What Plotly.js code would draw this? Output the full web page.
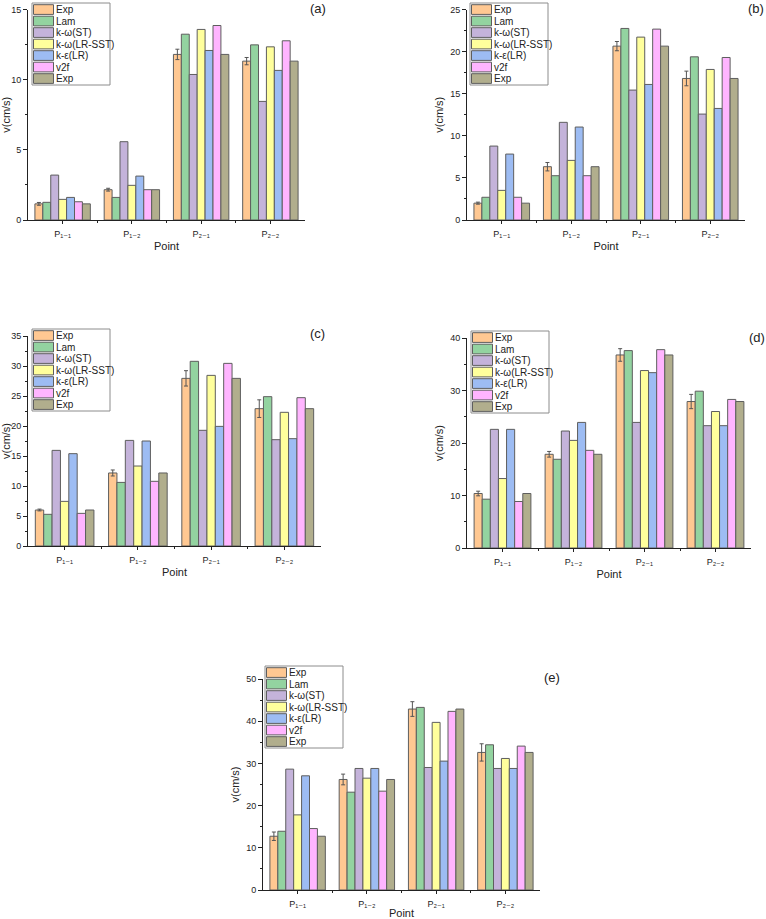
<!DOCTYPE html>
<html>
<head>
<meta charset="utf-8">
<script src="https://cdn.plot.ly/plotly-3.0.1.min.js"></script>
<style>html,body{margin:0;padding:0;background:#fff;}#chart{width:766px;height:919px;}</style>
</head>
<body>
<div id="chart"></div>
<script>
// ---------- data ----------
const categories = ['P₁₋₁', 'P₁₋₂', 'P₂₋₁', 'P₂₋₂'];
const seriesNames = ['Exp', 'Lam', 'k-ω(ST)', 'k-ω(LR-SST)', 'k-ε(LR)', 'v2f', 'Exp'];
const seriesColors = ['#FFC892', '#93D3A0', '#C4B3DA', '#FFFF9C', '#9DBCF3', '#FFB5FF', '#B1AE8D'];
const panelLabels = ['(a)', '(b)', '(c)', '(d)', '(e)'];

// values per panel: rows follow seriesNames order
const valuesA = [
  [1.15, 2.16, 11.80, 11.32],
  [1.26, 1.61, 13.24, 12.48],
  [3.20, 5.58, 10.37, 8.45],
  [1.47, 2.47, 13.58, 12.34],
  [1.61, 3.13, 12.08, 10.66],
  [1.30, 2.16, 13.86, 12.77],
  [1.15, 2.16, 11.80, 11.32]
];
const errA = [0.10, 0.10, 0.37, 0.26];

const valuesB = [
  [2.00, 6.33, 20.65, 16.81],
  [2.70, 5.26, 22.75, 19.38],
  [8.78, 11.60, 15.43, 12.58],
  [3.52, 7.08, 21.72, 17.88],
  [7.83, 11.04, 16.10, 13.25],
  [2.70, 5.26, 22.67, 19.30],
  [2.00, 6.33, 20.65, 16.81]
];
const errB = [0.12, 0.50, 0.55, 0.87];

const valuesC = [
  [6.00, 12.17, 27.94, 22.89],
  [5.28, 10.60, 30.78, 24.89],
  [15.94, 17.60, 19.28, 17.72],
  [7.44, 13.33, 28.44, 22.28],
  [15.39, 17.50, 19.94, 17.89],
  [5.44, 10.78, 30.44, 24.72],
  [6.00, 12.17, 27.94, 22.89]
];
const errC = [0.15, 0.50, 1.28, 1.47];

const valuesD = [
  [10.38, 17.85, 36.77, 27.90],
  [9.30, 16.90, 37.60, 29.87],
  [22.60, 22.28, 23.92, 23.30],
  [13.23, 20.50, 33.80, 26.00],
  [22.60, 23.92, 33.40, 23.30],
  [8.86, 18.60, 37.78, 28.30],
  [10.38, 17.85, 36.77, 27.90]
];
const errD = [0.44, 0.54, 1.20, 1.36];

const valuesE = [
  [12.74, 26.19, 42.88, 32.60],
  [13.92, 23.18, 43.27, 34.41],
  [28.64, 28.80, 29.03, 28.80],
  [17.80, 26.50, 39.72, 31.17],
  [27.06, 28.80, 30.54, 28.80],
  [14.56, 23.42, 42.33, 34.10],
  [12.74, 26.19, 42.88, 32.60]
];
const errE = [1.00, 1.27, 1.74, 2.05];

const yMax = [15, 25, 35, 40, 50];
const yDtick = [5, 5, 5, 10, 10];

// ---------- layout geometry (pixels) ----------
const W = 766, H = 919;
const boxes = [
  {x0: 28, x1: 305, y0: 9.5, y1: 220, lx: 32, ly: 3, lab: [318, 8]},
  {x0: 467, x1: 745, y0: 9.5, y1: 220, lx: 470, ly: 3, lab: [756, 8]},
  {x0: 28, x1: 321, y0: 336, y1: 546, lx: 32, ly: 329, lab: [317, 333]},
  {x0: 467, x1: 751, y0: 338, y1: 548, lx: 471, ly: 331, lab: [757, 337]},
  {x0: 263, x1: 540, y0: 679, y1: 890, lx: 265, ly: 666, lab: [552, 677]}
];
const px = v => v / W;
const py = v => 1 - v / H;

const allValues = [valuesA, valuesB, valuesC, valuesD, valuesE];
const allErr = [errA, errB, errC, errD, errE];

const FONT = 'Arial, "Liberation Sans", "DejaVu Sans", sans-serif';
const xIdx = categories.map((c, i) => i);

const traces = [];
const layout = {
  width: W, height: H,
  margin: {l: 0, r: 0, t: 0, b: 0},
  paper_bgcolor: '#fff', plot_bgcolor: 'rgba(0,0,0,0)',
  showlegend: false,
  barmode: 'group', bargap: 0.2, bargroupgap: 0,
  font: {family: FONT, color: '#222', size: 10},
  shapes: [], annotations: []
};

allValues.forEach((vals, p) => {
  const n = p === 0 ? '' : String(p + 1);
  const b = boxes[p];
  vals.forEach((row, s) => {
    const t = {
      type: 'bar', x: xIdx, y: row, name: seriesNames[s],
      xaxis: 'x' + n, yaxis: 'y' + n,
      marker: {color: seriesColors[s], line: {color: '#5e5e5e', width: 1}},
      hoverinfo: 'y'
    };
    if (s === 0) {
      t.error_y = {type: 'data', array: allErr[p], visible: true, color: '#555', thickness: 1, width: 2};
    }
    traces.push(t);
  });
  layout['xaxis' + n] = {
    domain: [px(b.x0), px(b.x1)], anchor: 'y' + n,
    range: [-0.5, 3.5], tickmode: 'array', tickvals: xIdx, ticktext: categories,
    showline: true, linecolor: '#222', linewidth: 1, zeroline: false, showgrid: false,
    ticks: 'outside', ticklen: 3, tickcolor: '#222', tickwidth: 1,
    ticklabelstandoff: 2,
    tickfont: {size: 9, color: '#222', family: FONT},
    minor: {tickmode: 'array', tickvals: [0.5, 1.5, 2.5], ticks: 'outside', ticklen: 2, tickcolor: '#222', showgrid: false},
    title: {text: 'Point', font: {size: 11, color: '#222', family: FONT}, standoff: 4},
    fixedrange: true
  };
  layout['yaxis' + n] = {
    domain: [py(b.y1), py(b.y0)], anchor: 'x' + n,
    range: [0, yMax[p]], dtick: yDtick[p], tick0: 0,
    showline: true, linecolor: '#222', linewidth: 1, zeroline: false, showgrid: false,
    ticks: 'outside', ticklen: 4, tickcolor: '#222', tickwidth: 1,
    tickfont: {size: 9, color: '#222', family: FONT},
    minor: {dtick: yDtick[p] / 2, tick0: 0, ticks: 'outside', ticklen: 2, tickcolor: '#222', showgrid: false},
    title: {text: 'v(cm/s)', font: {size: 11, color: '#222', family: FONT}, standoff: 4},
    fixedrange: true
  };

  // legend box (compact, like the original)
  const lw = 78, lh = 82, rowH = 11.5, swW = 20, swH = 9.7;
  layout.shapes.push({
    type: 'rect', xref: 'paper', yref: 'paper',
    x0: px(b.lx), x1: px(b.lx + lw), y0: py(b.ly + lh), y1: py(b.ly),
    line: {color: '#8c8c8c', width: 1}, fillcolor: '#fff', layer: 'above'
  });
  seriesNames.forEach((nm, s) => {
    const top = b.ly + 1.7 + s * rowH;
    layout.shapes.push({
      type: 'rect', xref: 'paper', yref: 'paper',
      x0: px(b.lx + 1.5), x1: px(b.lx + 1.5 + swW), y0: py(top + swH), y1: py(top),
      line: {color: '#5e5e5e', width: 1}, fillcolor: seriesColors[s], layer: 'above'
    });
    layout.annotations.push({
      xref: 'paper', yref: 'paper', x: px(b.lx + 22), y: py(top + swH / 2),
      xanchor: 'left', yanchor: 'middle', showarrow: false, text: nm,
      font: {size: 10, color: '#222', family: FONT}
    });
  });
  layout.annotations.push({
    xref: 'paper', yref: 'paper', x: px(b.lab[0]), y: py(b.lab[1]),
    xanchor: 'center', yanchor: 'middle', showarrow: false, text: panelLabels[p],
    font: {size: 13, color: '#222', family: FONT}
  });
});

Plotly.newPlot('chart', traces, layout, {displayModeBar: false});
</script>
</body>
</html>
